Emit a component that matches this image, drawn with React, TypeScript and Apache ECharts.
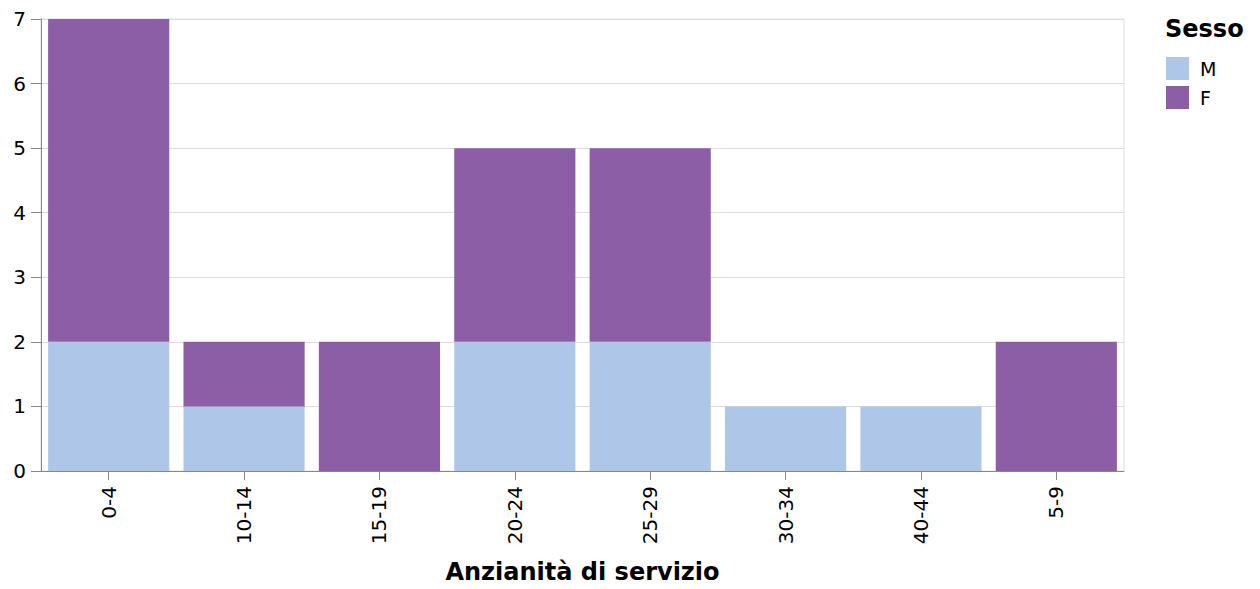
import React, { useEffect, useRef } from "react";
import * as echarts from "echarts";

const categories = ["0-4", "10-14", "15-19", "20-24", "25-29", "30-34", "40-44", "5-9"];
const maleValues = [2, 1, 0, 2, 2, 1, 1, 0];
const femaleValues = [5, 1, 2, 3, 3, 0, 0, 2];
const yTicks = [0, 1, 2, 3, 4, 5, 6, 7];

const FONT = "DejaVu Sans";

export default function App() {
  const ref = useRef<HTMLDivElement>(null);
  useEffect(() => {
    if (!ref.current) return;
    const chart = echarts.init(ref.current, null, { renderer: "svg" });
    chart.setOption({
      animation: false,
      textStyle: { fontFamily: FONT },
      grid: {
        left: 41,
        top: 19,
        right: 136,
        bottom: 118,
        show: true,
        borderColor: "#dddddd",
        borderWidth: 1,
        containLabel: false,
      },
      legend: {
        orient: "vertical",
        left: 1166,
        top: 57,
        padding: 0,
        itemWidth: 23,
        itemHeight: 23,
        itemGap: 6,
        icon: "rect",
        textStyle: { fontFamily: FONT, fontSize: 19, color: "#000", padding: [0, 0, 0, 6] },
        data: ["M", "F"],
      },
      graphic: [
        {
          type: "text",
          left: 1165,
          top: 17,
          style: { text: "Sesso", font: `bold 24px '${FONT}'`, fill: "#000" },
        },
      ],
      xAxis: {
        type: "category",
        data: categories,
        name: "Anzianità di servizio",
        nameLocation: "middle",
        nameGap: 89,
        nameTextStyle: { fontFamily: FONT, fontSize: 24, fontWeight: "bold", color: "#000" },
        axisLine: { show: true, lineStyle: { color: "#888", width: 1 } },
        axisTick: { show: true, alignWithLabel: true, length: 9, lineStyle: { color: "#888" } },
        axisLabel: { rotate: 90, fontSize: 20, color: "#000", margin: 15, fontFamily: FONT },
        splitLine: { show: false },
      },
      yAxis: {
        type: "value",
        min: 0,
        max: yTicks[yTicks.length - 1],
        interval: 1,
        axisLine: { show: true, lineStyle: { color: "#888", width: 1 } },
        axisTick: { show: true, length: 10, lineStyle: { color: "#888" } },
        axisLabel: { fontSize: 20, color: "#000", margin: 15, fontFamily: FONT },
        splitLine: { show: true, lineStyle: { color: "#dddddd", width: 1 } },
      },
      series: [
        {
          name: "M",
          type: "bar",
          stack: "total",
          data: maleValues,
          barCategoryGap: "10.5%",
          itemStyle: { color: "#aec7e8" },
        },
        {
          name: "F",
          type: "bar",
          stack: "total",
          data: femaleValues,
          barCategoryGap: "10.5%",
          itemStyle: { color: "#8c5ea6" },
        },
      ],
    });
    return () => chart.dispose();
  }, []);
  return (
    <div
      ref={ref}
      style={{ position: "absolute", left: 0, top: 0, width: 1260, height: 589, background: "#fff" }}
    />
  );
}
